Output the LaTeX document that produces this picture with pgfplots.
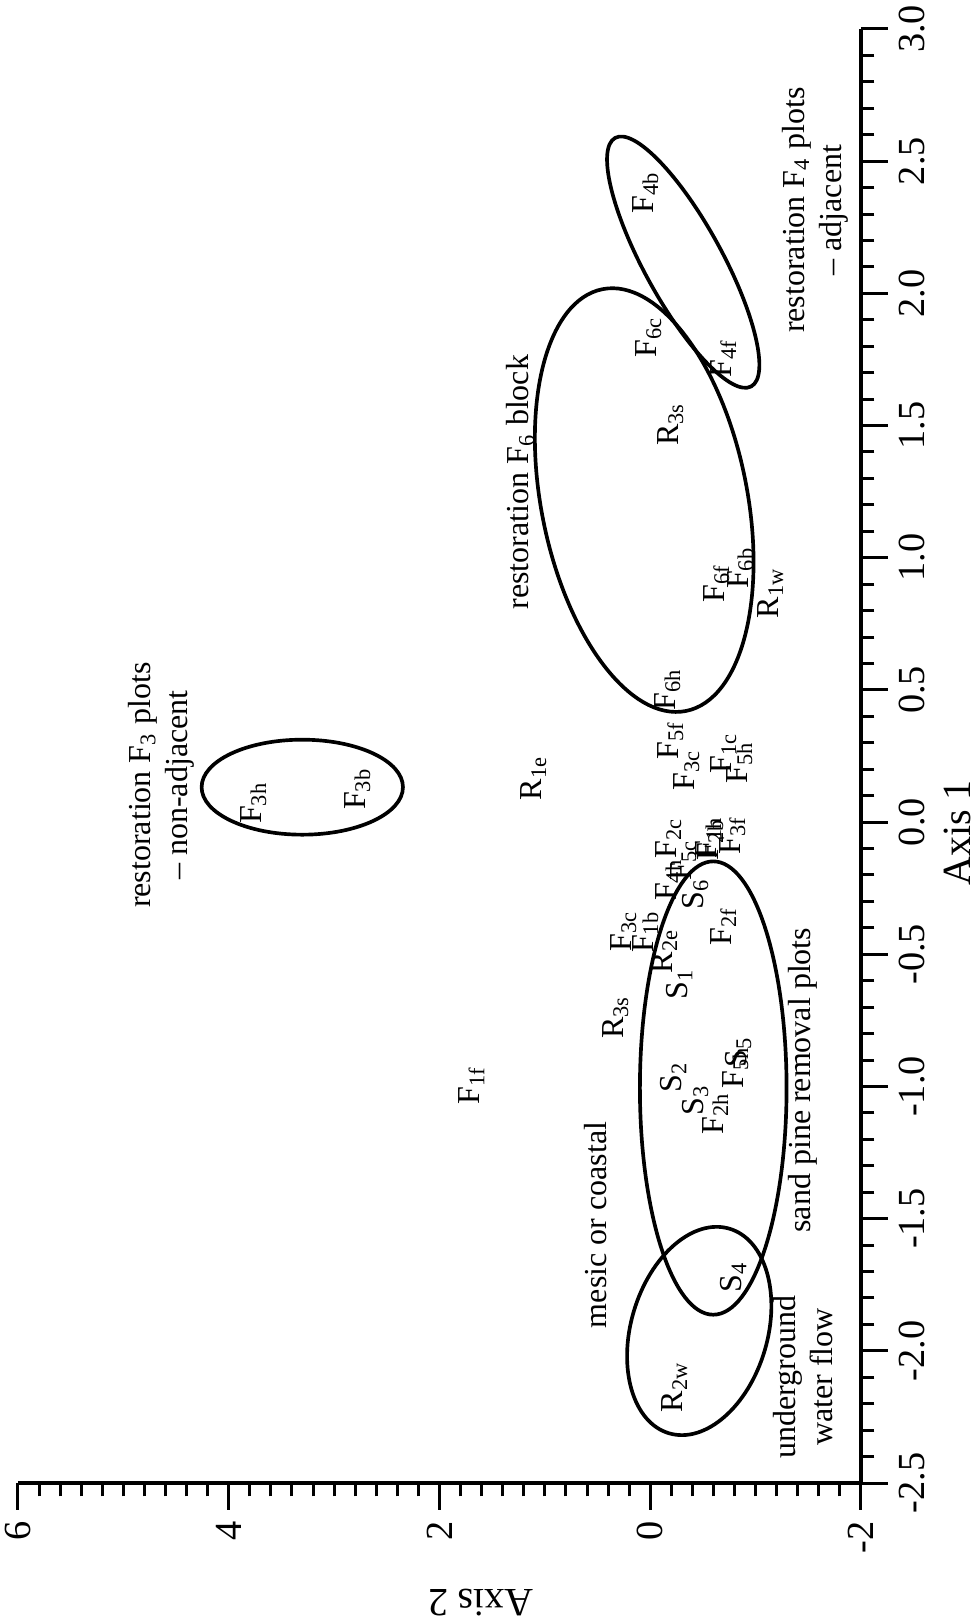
\documentclass[border=0pt]{standalone}
\usepackage{fontspec}
\setmainfont{Liberation Serif}
\usepackage{pgfplots}
\pgfplotsset{compat=1.18}
\usetikzlibrary{calc}

\newcommand{\lab}[2]{#1\textsubscript{#2}}

\begin{document}
\begin{tikzpicture}
\begin{axis}[
  name=ax,
  scale only axis,
  width=252.9pt, height=436.2pt,
  x dir=reverse,
  xmin=-2, xmax=6, ymin=-2.5, ymax=3,
  axis x line*=bottom,
  axis y line*=right,
  axis line style={line width=1.3pt},
  xtick={-2,0,2,4,6},
  ytick={-2.5,-2,-1.5,-1,-0.5,0,0.5,1,1.5,2,2.5,3},
  minor x tick num=9,
  minor y tick num=4,
  tick align=outside,
  major tick length=8pt,
  minor tick length=4pt,
  tick style={line width=0.9pt, black},
  /pgf/number format/assume math mode=true,
  tick label style={font=\fontsize{11.5}{13}\selectfont},
  xticklabel style={rotate=90, anchor=east},
  yticklabel style={rotate=90, anchor=north,
    /pgf/number format/.cd, fixed, fixed zerofill, precision=1},
  xlabel={Axis 2},
  ylabel={Axis 1},
  xlabel style={at={(axis description cs:0.549,-0.0825)}, anchor=center,
    rotate=180, font=\fontsize{12}{14}\selectfont},
  ylabel style={at={(axis description cs:1.114,0.447)}, anchor=center,
    rotate=0, font=\fontsize{12}{14}\selectfont},
  clip=false,
]

% plot labels used as markers
\addplot[only marks, mark=none, nodes near coords, point meta=explicit symbolic,
  every node near coord/.append style={rotate=90, anchor=center, inner sep=0pt,
    font=\fontsize{9.6}{10}\selectfont}]
  coordinates {
  (0.047,2.383) [\lab{F}{4b}]
  (0.019,1.834) [\lab{F}{6c}]
  (-0.693,1.755) [\lab{F}{4f}]
  (-0.190,1.505) [\lab{R}{3s}]
  (-0.626,0.904) [\lab{F}{6f}]
  (-0.854,0.961) [\lab{F}{6b}]
  (-1.139,0.866) [\lab{R}{1w}]
  (-0.161,0.503) [\lab{F}{6h}]
  (-0.190,0.310) [\lab{F}{5f}]
  (-0.342,0.197) [\lab{F}{3c}]
  (-0.693,0.261) [\lab{F}{1c}]
  (-0.844,0.227) [\lab{F}{5h}]
  (1.110,0.166) [\lab{R}{1e}]
  (3.767,0.072) [\lab{F}{3h}]
  (2.780,0.125) [\lab{F}{3b}]
  (-0.171,-0.061) [\lab{F}{2c}]
  (-0.171,-0.219) [\lab{F}{4h}]
  (-0.313,-0.144) [\lab{F}{5c}]
  (-0.550,-0.057) [\lab{F}{1h}]
  (-0.569,-0.068) [\lab{F}{2b}]
  (-0.778,-0.049) [\lab{F}{3f}]
  (-0.427,-0.272) [\lab{S}{6}]
  (0.256,-0.412) [\lab{F}{3c}]
  (0.047,-0.416) [\lab{F}{1b}]
  (-0.133,-0.488) [\lab{R}{2e}]
  (-0.693,-0.393) [\lab{F}{2f}]
  (-0.275,-0.613) [\lab{S}{1}]
  (0.332,-0.738) [\lab{R}{3s}]
  (-0.218,-0.964) [\lab{S}{2}]
  (-0.806,-0.927) [\lab{F}{5h}]
  (-0.835,-0.870) [\lab{S}{5}]
  (-0.427,-1.051) [\lab{S}{3}]
  (-0.617,-1.101) [\lab{F}{2h}]
  (1.698,-0.995) [\lab{F}{1f}]
  (-0.787,-1.721) [\lab{S}{4}]
  (-0.228,-2.137) [\lab{R}{2w}]
};

% group ellipses
\draw[line width=1.1pt] (axis cs:3.302,0.132) ellipse [x radius=30.2pt, y radius=14.25pt];
\draw[line width=1.1pt, rotate around={11.2:(axis cs:0.057,1.218)}]
  (axis cs:0.057,1.218) ellipse [x radius=30.9pt, y radius=64.5pt];
\draw[line width=1.1pt, rotate around={28.7:(axis cs:-0.313,2.118)}]
  (axis cs:-0.313,2.118) ellipse [x radius=11.7pt, y radius=42.5pt];
\draw[line width=1.1pt] (axis cs:-0.598,-1.006) ellipse [x radius=22pt, y radius=68pt];
\draw[line width=1.1pt, rotate around={-16.4:(axis cs:-0.465,-1.925)}]
  (axis cs:-0.465,-1.925) ellipse [x radius=20.5pt, y radius=32pt];

% group names
\begin{scope}[every node/.style={rotate=90, align=center, inner sep=0pt,
    font=\fontsize{9.6}{11.2}\selectfont}]
\node at (axis cs:4.639,0.140) {restoration \lab{F}{3} plots\\-- non-adjacent};
\node at (axis cs:1.233,1.286) {restoration \lab{F}{6} block};
\node at (axis cs:-1.565,2.315) {restoration \lab{F}{4} plots\\-- adjacent};
\node at (axis cs:0.522,-1.524) {mesic or coastal};
\node at (axis cs:-1.452,-0.976) {sand pine removal plots};
\node at (axis cs:-1.452,-2.099) {underground\\water flow};
\end{scope}
\end{axis}
\pgfresetboundingbox
\path[use as bounding box] ($(ax.south west)+(-5.4pt,-42pt)$) rectangle ($(ax.north east)+(33.9pt,8.7pt)$);
\end{tikzpicture}
\end{document}
